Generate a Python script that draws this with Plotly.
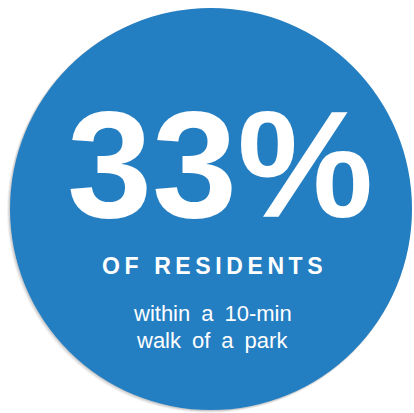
import plotly.graph_objects as go

# Values
percent_value = [33]
headline_labels = ["OF RESIDENTS"]
detail_lines = ["within a 10-min", "walk of a park"]

W, H = 414, 413
BLUE = "#247EC2"

fig = go.Figure()

# circle (with soft shadow)
for off, op in [(3, 0.05), (2, 0.07), (1, 0.09)]:
    fig.add_shape(type="circle", xref="x", yref="y",
                  x0=10 - off, x1=412 - off * 0.3, y0=8 + off * 0.3, y1=410 + off,
                  fillcolor=f"rgba(0,0,0,{op})", line=dict(width=0), layer="below")
fig.add_shape(type="circle", xref="x", yref="y", x0=10, x1=412, y0=8, y1=410,
              fillcolor=BLUE, line=dict(width=0), layer="below")

font_family = "Liberation Sans, Arial, sans-serif"

fig.add_annotation(x=220, y=163, xref="x", yref="y", text=f"<b>{percent_value[0]}%</b>",
                   showarrow=False, xanchor="center", yanchor="middle",
                   font=dict(family=font_family, size=153, color="white"))

spaced = "\u2009".join(list(headline_labels[0]))
fig.add_annotation(x=212, y=265.5, xref="x", yref="y", text=f"<b>{spaced}</b>",
                   showarrow=False, xanchor="center", yanchor="middle",
                   font=dict(family=font_family, size=23, color="white"))

for i, (line, yy) in enumerate(zip(detail_lines, [313, 340])):
    fig.add_annotation(x=212, y=yy, xref="x", yref="y", text=line.replace(" ", "\u2002"),
                       showarrow=False, xanchor="center", yanchor="middle",
                       font=dict(family=font_family, size=22, color="white"))

fig.update_xaxes(range=[0, W], visible=False, fixedrange=True)
fig.update_yaxes(range=[H, 0], visible=False, fixedrange=True)
fig.update_layout(width=W, height=H, margin=dict(l=0, r=0, t=0, b=0),
                  paper_bgcolor="white", plot_bgcolor="white", showlegend=False)

fig.write_html("out.html", config={"displayModeBar": False},
               post_script="document.body.style.margin='0';document.body.style.overflow='hidden';")
